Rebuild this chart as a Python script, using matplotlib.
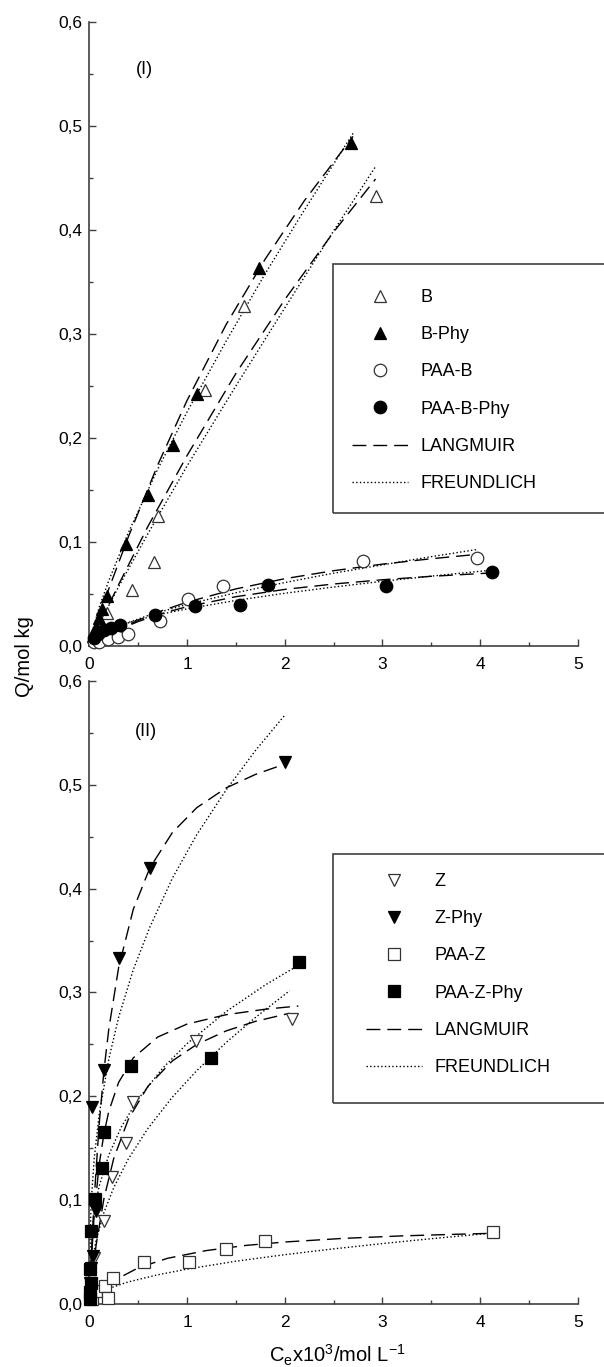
import matplotlib.pyplot as plt
import matplotlib.patches as patches
from matplotlib.ticker import MultipleLocator, FuncFormatter

plt.rcParams['font.family'] = ['Liberation Sans', 'DejaVu Sans']
plt.rcParams['mathtext.default'] = 'regular'

# ---- panel (I): measured points ----
b_x = [0.06, 0.12, 0.18, 0.44, 0.66, 0.70, 1.18, 1.58, 2.93]
b_y = [0.008, 0.016, 0.032, 0.054, 0.081, 0.125, 0.246, 0.327, 0.433]
bphy_x = [0.04, 0.07, 0.10, 0.13, 0.18, 0.38, 0.60, 0.86, 1.10, 1.74, 2.68]
bphy_y = [0.010, 0.018, 0.027, 0.036, 0.048, 0.098, 0.145, 0.193, 0.242, 0.363, 0.484]
paab_x = [0.05, 0.10, 0.19, 0.29, 0.40, 0.72, 1.01, 1.37, 2.80, 3.97]
paab_y = [0.004, 0.004, 0.007, 0.009, 0.012, 0.024, 0.045, 0.058, 0.082, 0.085]
paabphy_x = [0.05, 0.09, 0.15, 0.22, 0.31, 0.67, 1.08, 1.54, 1.83, 3.04, 4.12]
paabphy_y = [0.008, 0.012, 0.015, 0.017, 0.020, 0.030, 0.038, 0.039, 0.059, 0.058, 0.071]

# ---- panel (I): fitted isotherms ----
bphy_lang_x = [0.02, 0.1, 0.2, 0.4, 0.7, 1.0, 1.4, 1.8, 2.2, 2.7]
bphy_lang_y = [0.006, 0.028, 0.055, 0.105, 0.174, 0.236, 0.309, 0.372, 0.428, 0.490]
bphy_freu_x = [0.02, 0.1, 0.2, 0.4, 0.7, 1.0, 1.4, 1.8, 2.2, 2.7]
bphy_freu_y = [0.010, 0.037, 0.063, 0.109, 0.170, 0.225, 0.293, 0.358, 0.419, 0.493]
b_lang_x = [0.02, 0.1, 0.3, 0.6, 1.0, 1.5, 2.0, 2.5, 2.93]
b_lang_y = [0.004, 0.020, 0.059, 0.115, 0.183, 0.262, 0.333, 0.398, 0.449]
b_freu_x = [0.03, 0.1, 0.3, 0.6, 1.0, 1.5, 2.0, 2.5, 2.93]
b_freu_y = [0.007, 0.021, 0.057, 0.108, 0.173, 0.250, 0.325, 0.399, 0.461]
paab_lang_x = [0.05, 0.15, 0.3, 0.5, 0.75, 1.0, 1.5, 2.0, 2.5, 3.0, 3.5, 3.91]
paab_lang_y = [0.003, 0.0085, 0.016, 0.0248, 0.0342, 0.0421, 0.0549, 0.0647, 0.0724, 0.0787, 0.0839, 0.0876]
paab_freu_x = [0.1, 0.3, 0.6, 1.0, 1.5, 2.0, 2.5, 3.0, 3.5, 3.97]
paab_freu_y = [0.0098, 0.0192, 0.0293, 0.040, 0.0512, 0.061, 0.070, 0.078, 0.0859, 0.0928]
paabphy_lang_x = [0.05, 0.15, 0.3, 0.5, 0.75, 1.0, 1.5, 2.0, 2.5, 3.0, 3.5, 4.07]
paabphy_lang_y = [0.003, 0.0085, 0.0156, 0.0235, 0.0314, 0.0378, 0.0474, 0.0544, 0.0596, 0.0637, 0.0670, 0.070]
paabphy_freu_x = [0.05, 0.15, 0.3, 0.5, 0.75, 1.0, 1.5, 2.0, 2.5, 3.0, 3.5, 4.07]
paabphy_freu_y = [0.0079, 0.0137, 0.0194, 0.0252, 0.0309, 0.0357, 0.0438, 0.0507, 0.0567, 0.0622, 0.0672, 0.0725]

# ---- panel (II): measured points ----
z_x = [0.02, 0.05, 0.15, 0.23, 0.38, 0.45, 1.09, 2.07]
z_y = [0.020, 0.044, 0.080, 0.122, 0.155, 0.195, 0.253, 0.274]
zphy_x = [0.01, 0.02, 0.04, 0.07, 0.03, 0.15, 0.30, 0.62, 2.00]
zphy_y = [0.020, 0.035, 0.046, 0.090, 0.190, 0.225, 0.333, 0.420, 0.522]
paaz_x = [0.03, 0.07, 0.16, 0.19, 0.24, 0.56, 1.02, 1.40, 1.80, 4.13]
paaz_y = [0.005, 0.013, 0.017, 0.006, 0.025, 0.040, 0.040, 0.053, 0.061, 0.069]
paazphy_x = [0.01, 0.01, 0.02, 0.01, 0.02, 0.06, 0.13, 0.15, 0.43, 1.25, 2.15]
paazphy_y = [0.005, 0.012, 0.020, 0.034, 0.070, 0.101, 0.131, 0.166, 0.229, 0.237, 0.329]

# ---- panel (II): fitted isotherms ----
z_lang_x = [0.01, 0.03, 0.07, 0.15, 0.25, 0.4, 0.6, 0.85, 1.1, 1.4, 1.7, 2.05]
z_lang_y = [0.0096, 0.0271, 0.0569, 0.1016, 0.1401, 0.178, 0.2097, 0.2341, 0.250, 0.263, 0.2722, 0.280]
z_freu_x = [0.01, 0.03, 0.07, 0.15, 0.25, 0.4, 0.6, 0.85, 1.1, 1.4, 1.7, 2.05]
z_freu_y = [0.0247, 0.0414, 0.0616, 0.0882, 0.1121, 0.1398, 0.1691, 0.1992, 0.2248, 0.2518, 0.2759, 0.3017]
zphy_lang_x = [0.005, 0.02, 0.05, 0.1, 0.15, 0.2, 0.3, 0.45, 0.62, 0.85, 1.1, 1.4, 1.7, 2.0]
zphy_lang_y = [0.012, 0.045, 0.101, 0.172, 0.225, 0.265, 0.324, 0.380, 0.420, 0.454, 0.478, 0.497, 0.510, 0.520]
zphy_freu_x = [0.005, 0.02, 0.05, 0.1, 0.2, 0.3, 0.45, 0.62, 0.85, 1.1, 1.4, 1.7, 2.0]
zphy_freu_y = [0.058, 0.099, 0.140, 0.182, 0.236, 0.276, 0.322, 0.363, 0.410, 0.452, 0.495, 0.533, 0.567]
paaz_lang_x = [0.02, 0.1, 0.25, 0.5, 0.8, 1.2, 1.6, 2.0, 2.6, 3.2, 3.7, 4.09]
paaz_lang_y = [0.0024, 0.0108, 0.0224, 0.0348, 0.0440, 0.0515, 0.0564, 0.0597, 0.0632, 0.0656, 0.0670, 0.068]
paaz_freu_x = [0.2, 0.4, 0.7, 1.0, 1.5, 2.0, 2.5, 3.0, 3.5, 4.09]
paaz_freu_y = [0.015, 0.0213, 0.0281, 0.0336, 0.0412, 0.0475, 0.0531, 0.0582, 0.0629, 0.068]
paazphy_lang_x = [0.005, 0.02, 0.05, 0.1, 0.15, 0.2, 0.3, 0.45, 0.7, 1.0, 1.4, 1.8, 2.14]
paazphy_lang_y = [0.0115, 0.0412, 0.0857, 0.1337, 0.164, 0.1857, 0.2134, 0.237, 0.2571, 0.2696, 0.2786, 0.2839, 0.287]
paazphy_freu_x = [0.005, 0.02, 0.05, 0.1, 0.2, 0.33, 0.5, 0.75, 1.0, 1.4, 1.8, 2.1]
paazphy_freu_y = [0.0402, 0.0649, 0.089, 0.1131, 0.1437, 0.1709, 0.1973, 0.227, 0.2507, 0.2816, 0.3072, 0.324]

W, H = 604, 1367
EDGE = '#404040'
LANG_DASH = (0, (10, 5))


def px_rect(x0, y0, x1, y1):
    # pixel box (origin top-left) -> figure fraction [l, b, w, h]
    return [x0 / W, 1 - y1 / H, (x1 - x0) / W, (y1 - y0) / H]


def style_axis(ax):
    ax.set_xlim(0, 5)
    ax.set_ylim(0, 0.6)
    for s in ['top', 'right']:
        ax.spines[s].set_visible(False)
    for s in ['left', 'bottom']:
        ax.spines[s].set_color(EDGE)
        ax.spines[s].set_linewidth(1.2)
    ax.xaxis.set_major_locator(MultipleLocator(1))
    ax.xaxis.set_minor_locator(MultipleLocator(0.5))
    ax.yaxis.set_major_locator(MultipleLocator(0.1))
    ax.yaxis.set_minor_locator(MultipleLocator(0.05))
    ax.yaxis.set_major_formatter(FuncFormatter(lambda v, p: f'{v:.1f}'.replace('.', ',')))
    ax.xaxis.set_major_formatter(FuncFormatter(lambda v, p: f'{v:.0f}'))
    ax.tick_params(which='both', direction='in', color=EDGE, width=1.0, labelsize=12.5)
    ax.tick_params(which='major', length=5)
    ax.tick_params(which='minor', length=3)
    ax.tick_params(axis='x', pad=8)
    ax.tick_params(axis='y', pad=5)


def points(ax, x, y, marker, filled, label, ms=9):
    return ax.plot(x, y, linestyle='none', marker=marker, ms=ms,
                   mfc='black' if filled else 'white',
                   mec='black' if filled else '#333333', mew=0.9,
                   clip_on=False, zorder=3, label=label)[0]


def fit(ax, x, y, kind, label=None):
    ls = LANG_DASH if kind == 'L' else ':'
    return ax.plot(x, y, color='black', lw=1.0, linestyle=ls, zorder=2, label=label)[0]


fig = plt.figure(figsize=(W / 100, H / 100), dpi=100)
ax1 = fig.add_axes(px_rect(89.3, 22, 577.8, 646))
ax2 = fig.add_axes(px_rect(89.3, 681, 577.8, 1304))
style_axis(ax1)
style_axis(ax2)

# panel (I)
l1 = fit(ax1, bphy_lang_x, bphy_lang_y, 'L', 'LANGMUIR')
f1 = fit(ax1, bphy_freu_x, bphy_freu_y, 'F', 'FREUNDLICH')
fit(ax1, b_lang_x, b_lang_y, 'L')
fit(ax1, b_freu_x, b_freu_y, 'F')
fit(ax1, paab_lang_x, paab_lang_y, 'L')
fit(ax1, paab_freu_x, paab_freu_y, 'F')
fit(ax1, paabphy_lang_x, paabphy_lang_y, 'L')
fit(ax1, paabphy_freu_x, paabphy_freu_y, 'F')
h1 = [points(ax1, b_x, b_y, '^', False, 'B'),
      points(ax1, bphy_x, bphy_y, '^', True, 'B-Phy'),
      points(ax1, paab_x, paab_y, 'o', False, 'PAA-B'),
      points(ax1, paabphy_x, paabphy_y, 'o', True, 'PAA-B-Phy'),
      l1, f1]
ax1.text(0.56, 0.554, '(I)', fontsize=13, ha='center', va='center')

# panel (II)
l2 = fit(ax2, zphy_lang_x, zphy_lang_y, 'L', 'LANGMUIR')
f2 = fit(ax2, zphy_freu_x, zphy_freu_y, 'F', 'FREUNDLICH')
fit(ax2, z_lang_x, z_lang_y, 'L')
fit(ax2, z_freu_x, z_freu_y, 'F')
fit(ax2, paaz_lang_x, paaz_lang_y, 'L')
fit(ax2, paaz_freu_x, paaz_freu_y, 'F')
fit(ax2, paazphy_lang_x, paazphy_lang_y, 'L')
fit(ax2, paazphy_freu_x, paazphy_freu_y, 'F')
h2 = [points(ax2, z_x, z_y, 'v', False, 'Z'),
      points(ax2, zphy_x, zphy_y, 'v', True, 'Z-Phy'),
      points(ax2, paaz_x, paaz_y, 's', False, 'PAA-Z', ms=8.5),
      points(ax2, paazphy_x, paazphy_y, 's', True, 'PAA-Z-Phy', ms=8.5),
      l2, f2]
ax2.text(0.58, 0.551, '(II)', fontsize=13, ha='center', va='center')

# legends: open-ended frame running off the right edge, entries without frame
for box, anchor, ax, hs in [((333, 264, 640, 513), (352, 289), ax1, h1),
                            ((333, 854, 640, 1103), (366, 873), ax2, h2)]:
    x0, y0, x1, y1 = box
    fig.add_artist(patches.Rectangle((x0 / W, 1 - y1 / H), (x1 - x0) / W, (y1 - y0) / H,
                                     transform=fig.transFigure, fill=False,
                                     lw=1.2, ec=EDGE))
    ax.legend(handles=hs, loc='upper left', bbox_to_anchor=(anchor[0] / W, 1 - anchor[1] / H),
              bbox_transform=fig.transFigure, frameon=False, fontsize=13,
              handlelength=3.1, handletextpad=0.7, labelspacing=1.12,
              borderpad=0, borderaxespad=0)

fig.text(25 / W, 1 - 657 / H, 'Q/mol kg', rotation=90, ha='center', va='center', fontsize=14.5)
fig.text(337 / W, 1 - 1355 / H, r'C$_e$x10$^3$/mol L$^{-1}$', ha='center', va='center', fontsize=14.5)

fig.savefig('out.png', dpi=100)
